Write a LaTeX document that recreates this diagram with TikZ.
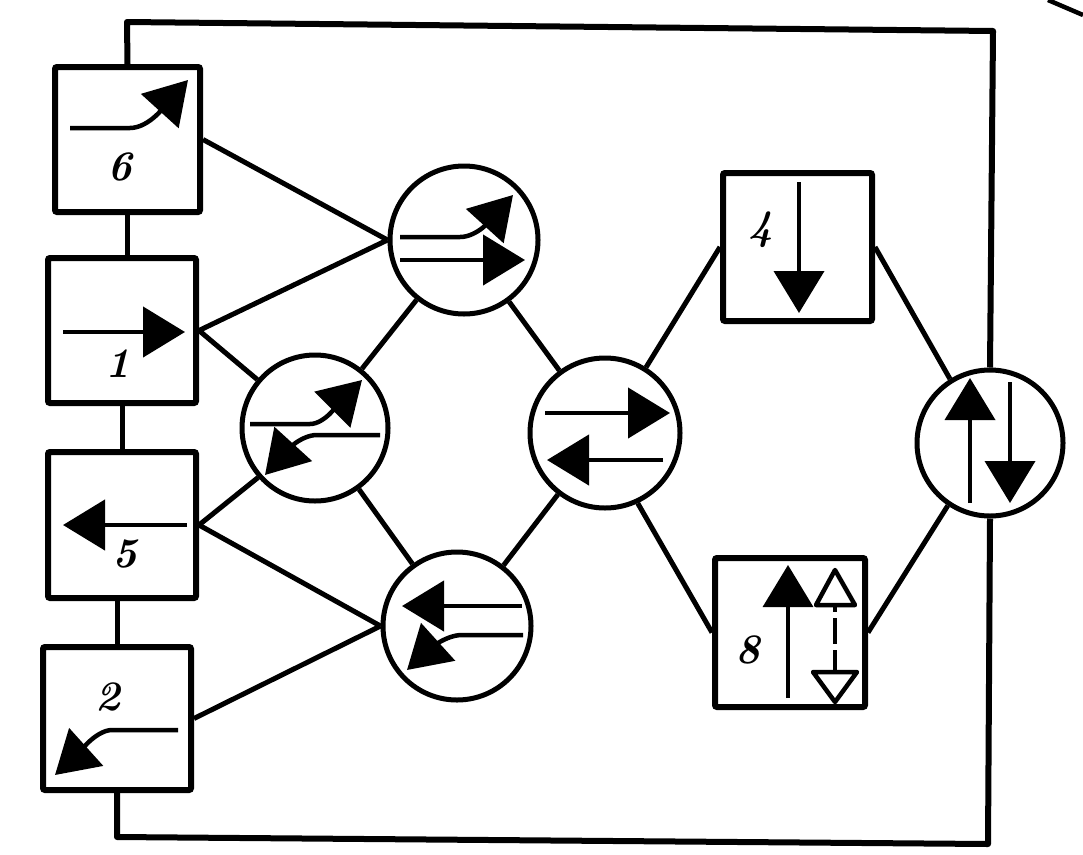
\documentclass[tikz,border=0pt]{standalone}
\usetikzlibrary{arrows.meta}
\begin{document}
\begin{tikzpicture}[x=1pt,y=-1pt,
  box/.style={draw, rectangle, line width=6pt, rounded corners=2pt, inner sep=0pt},
  valve/.style={draw, circle, line width=5pt, inner sep=0pt},
  link/.style={line width=5pt},
  frame/.style={line width=6pt, line join=round},
  flow/.style={line width=4.5pt, -{Triangle[length=42pt,width=50pt]}},
  hollow/.style={line width=4.5pt, line join=round},
  num/.style={font=\fontsize{42}{42}\selectfont\bfseries\itshape, inner sep=0pt}]
\useasboundingbox (0,0) rectangle (1083,854);

% boxes
\node[box, minimum width=145pt, minimum height=145pt] (b6) at (127.5,139.5) {};
\node[box, minimum width=148pt, minimum height=145pt] (b1) at (122,330.5) {};
\node[box, minimum width=148pt, minimum height=146pt] (b5) at (122,525) {};
\node[box, minimum width=148pt, minimum height=143pt] (b2) at (117,718.5) {};
\node[box, minimum width=149pt, minimum height=148pt] (b4) at (797.5,247) {};
\node[box, minimum width=150pt, minimum height=149pt] (b8) at (790,632.5) {};

% circles
\node[valve, minimum size=148pt] (A) at (464,240) {};
\node[valve, minimum size=146pt] (B) at (315,428) {};
\node[valve, minimum size=148pt] (C) at (457,626) {};
\node[valve, minimum size=150pt] (D) at (605,433) {};
\node[valve, minimum size=146pt] (E) at (990,443) {};

% labels
\node[num] (l6) at (120,167) {6};
\node[num] (l1) at (118,364) {1};
\node[num] (l5) at (125,554) {5};
\node[num] (l2) at (108,697) {2};
\node[num] (l4) at (761,230) {4};
\node[num] (l8) at (748,650) {8};

% frame
\draw[frame] (b6.north) -- (127,22) -- (993,31) -- (E.north);
\draw[frame] (E.south) -- (988,844) -- (117,837) -- (b2.south);
\draw[link] (b6.south) -- (b6.south |- b1.north);
\draw[link] (b1.south) -- (b1.south |- b5.north);
\draw[link] (b2.north |- b5.south) -- (b2.north);
\draw[line width=4.5pt] (1048,0) -- (1083,15);

% connectors
\draw[link] (b6.east) -- (A.west);
\draw[link] (b1.east) -- (A.west);
\draw[link] (b1.east) -- (B.140);
\draw[link] (b5.east) -- (B.221);
\draw[link] (b5.east) -- (C.west);
\draw[link] (b2.east) -- (C.west);
\draw[link] (B) -- (A);
\draw[link] (B) -- (C);
\draw[link] (A) -- (D);
\draw[link] (C) -- (D);
\draw[link] (D.58) -- (b4.west);
\draw[link] (D.295) -- (b8.west);
\draw[link] (b4.east) -- (E.122);
\draw[link] (b8.east) -- (E.236);

% flow symbols in boxes
\draw[flow] (70,128) -- (130,128) .. controls (150,128) and (168,102) .. (188,80);
\draw[flow] (63,332) -- (185,332);
\draw[flow] (187,525) -- (63,525);
\draw[flow] (178,730) -- (112,730) .. controls (95,730) and (75,757) .. (55,775);
\draw[flow, line width=4pt] (799,182) -- (799,313);
\draw[flow, line width=3.5pt] (788,698) -- (788,565);
\draw[hollow] (835,570) -- (816,605) -- (855,605) -- cycle;
\draw[hollow] (813,672) -- (857,672) -- (835,702) -- cycle;
\draw[line width=4pt, dash pattern=on 7pt off 6pt on 26pt off 6pt on 20pt off 6pt] (835,605) -- (835,672);

% flow symbols in circles
\draw[flow] (400,237) -- (460,237) .. controls (478,237) and (493,217) .. (513,195);
\draw[flow] (400,260) -- (525,260);
\draw[flow] (250,424) -- (310,424) .. controls (325,424) and (340,402) .. (362,380);
\draw[flow] (380,435) -- (317,435) .. controls (300,435) and (285,453) .. (265,475);
\draw[flow] (522,606) -- (402,606);
\draw[flow] (523,635) -- (462,635) .. controls (445,635) and (428,651) .. (407,670);
\draw[flow] (545,413) -- (670,413);
\draw[flow] (663,460) -- (547,460);
\draw[flow, line width=4pt] (970,503) -- (970,378);
\draw[flow, line width=4pt] (1010,382) -- (1010,503);
\end{tikzpicture}
\end{document}
